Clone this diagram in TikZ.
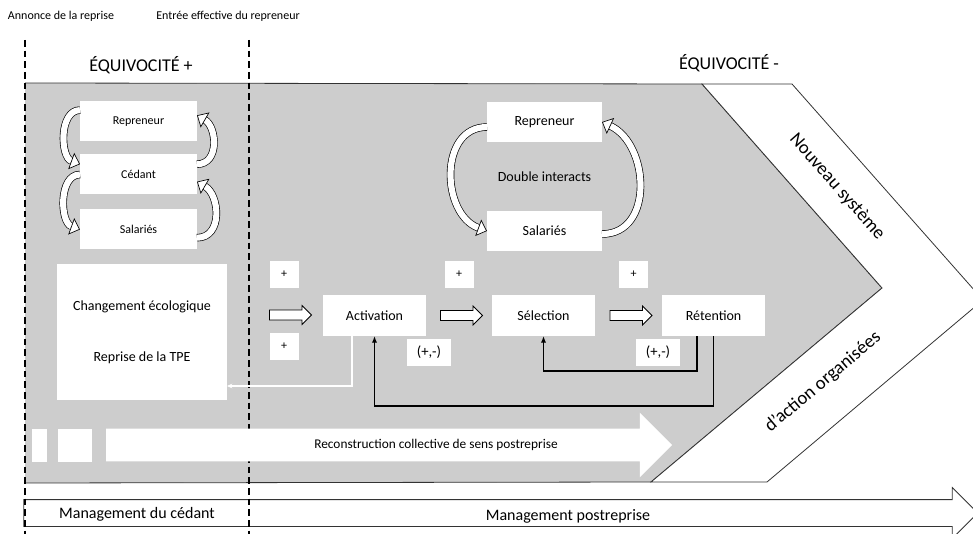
\documentclass[tikz,border=0pt]{standalone}
\usepackage{fontspec}
\setmainfont{Carlito}
\usetikzlibrary{positioning,arrows.meta,shapes.arrows,calc}
\definecolor{fond}{RGB}{205,205,205}

\begin{document}
\begin{tikzpicture}[x=0.75pt, y=-0.75pt,
  every node/.style={inner sep=0pt, outer sep=0pt},
  lbox/.style={fill=white, minimum width=87.75pt, minimum height=30pt, font=\fontsize{9}{11}\selectfont},
  rbox/.style={fill=white, minimum width=86.25pt, minimum height=30pt, font=\fontsize{10.5}{12.6}\selectfont},
  stage/.style={fill=white, minimum width=77.25pt, minimum height=30.75pt, font=\fontsize{10.5}{12.6}\selectfont},
  sign/.style={fill=white, minimum width=21.75pt, minimum height=20.25pt, font=\fontsize{9}{11}\selectfont},
  mix/.style={fill=white, minimum width=33pt, minimum height=20.25pt, font=\fontsize{11}{13}\selectfont},
  harrow/.style={single arrow, draw, fill=white, line width=0.6pt, inner ysep=3.4pt, minimum height=31.5pt, single arrow head extend=3.4pt},
  curv/.style={double=white, double distance=4.6pt, line width=0.5pt, -{Triangle[line width=0.5pt, fill=white, length=7pt, width=13pt]}},
  fb/.style={line width=1.1pt, -{Latex[length=5pt,width=4pt]}},
  jalon/.style={line width=0.9pt, dash pattern=on 5pt off 3pt},
  rim/.style={line width=0.6pt, draw=black!80}]
  \clip (0,0) rectangle (973,534);
  % fond gris et bande blanche
  \fill[fond] (25,83) -- (702,84) -- (882,288) -- (651,482) -- (25,483) -- cycle;
  \draw[rim] (25,83) -- (702,84) -- (882,288) -- (651,482) -- (25,483);
  \filldraw[rim, fill=white] (702,84) -- (792,84) -- (983,300) -- (767,482) -- (651,482) -- (882,288) -- cycle;
  % fleche du bas
  \node[single arrow, draw=black!80, fill=white, line width=0.6pt, inner ysep=9.75pt, minimum height=715.5pt, single arrow head extend=9pt] (mgt) at (494,513) {};
  \draw[jalon] (25,40) -- (25,534);
  \draw[jalon] (249,40) -- (249,534);
  % reconstruction
  \node[single arrow, fill=white, inner ysep=12pt, minimum height=424.5pt, single arrow head extend=12pt] (rec) at (381,445) {};
  \fill[white] (32,429) rectangle (47,462);
  \fill[white] (58,429) rectangle (92,462);
  \node[font=\fontsize{10}{12}\selectfont] (rect) at (436,445) {Reconstruction collective de sens postreprise};
  % textes
  \node[font=\fontsize{9}{11}\selectfont] (ann) at (61,16) {Annonce de la reprise};
  \node[font=\fontsize{9}{11}\selectfont] (ent) at (228,16) {Entrée effective du repreneur};
  \node[font=\fontsize{13.5}{16}\selectfont] (eq1) at (141,65) {ÉQUIVOCITÉ +};
  \node[font=\fontsize{13.5}{16}\selectfont] (eq2) at (729,63) {ÉQUIVOCITÉ -};
  \node[font=\fontsize{14}{17}\selectfont, rotate=-48.6] (ns) at (837,187) {Nouveau système};
  \node[font=\fontsize{14}{17}\selectfont, rotate=40] (ao) at (823,382) {d’action organisées};
  \node[font=\fontsize{12}{14}\selectfont] (mg1) at (137,514) {Management du cédant};
  \node[font=\fontsize{12}{14}\selectfont] (mg2) at (568,516) {Management postreprise};
  % acteurs avant
  \node[lbox] (rep1) at (138.5,121.5) {Repreneur};
  \node[lbox, below=9.75pt of rep1] (ced1) {Cédant};
  \node[lbox, below=11.25pt of ced1] (sal1) {Salariés};
  \draw[curv] (rep1.169) to[out=180, in=160] (ced1.170);
  \draw[curv] (ced1.west) to[out=180, in=160] (sal1.west);
  \draw[curv] (ced1.10) to[out=0, in=-30, looseness=1.2] (rep1.6);
  \draw[curv] (sal1.-8) to[out=0, in=-30, looseness=1.2] (ced1.-7);
  % acteurs apres
  \node[rbox] (rep2) at (544.5,122) {Repreneur};
  \node[rbox, below=51.75pt of rep2] (sal2) {Salariés};
  \node[font=\fontsize{10.5}{12.6}\selectfont] (dbl) at ($(rep2)!0.5!(sal2)$) {Double interacts};
  \draw[curv] (rep2.185) to[out=180, in=160, looseness=1.2] (sal2.west);
  \draw[curv] (sal2.-3) to[out=0, in=-25, looseness=1.2] (rep2.east);
  % changement
  \node[fill=white, minimum width=127.5pt, minimum height=102pt, align=center, font=\fontsize{10.5}{12.6}\selectfont] (chg) at (142,332) {Changement écologique\\[25.6pt]Reprise de la TPE};
  % processus
  \node[stage] (act) at (374.5,315.5) {Activation};
  \node[stage, right=49.5pt of act] (sel) {Sélection};
  \node[stage, right=50.25pt of sel] (ret) {Rétention};
  \node[harrow] (h1) at (288,315) {};
  \node[harrow] (h2) at ($(act.east)!0.5!(sel.west)$) {};
  \node[harrow] (h3) at ($(sel.east)!0.5!(ret.west)$) {};
  \node[sign] (p1) at (284,274.5) {+};
  \node[sign] (p2) at (284,346) {+};
  \node[sign] (p3) at (459,274.5) {+};
  \node[sign] (p4) at (633.5,274.5) {+};
  \node[mix] (m1) at (429,352.5) {(+,-)};
  \node[mix] (m2) at (658,352.5) {(+,-)};
  \draw[fb] ([xshift=-12.4pt]ret.south) -- ++(0,35) -| (sel.south);
  \draw[fb] (ret.south) -- ++(0,70) -| (act.south);
  \draw[white, line width=1pt, -{Stealth[length=4pt, width=3.5pt]}] ([xshift=-16.9pt]act.south) |- ([yshift=-40.5pt]chg.east);
\end{tikzpicture}
\end{document}
